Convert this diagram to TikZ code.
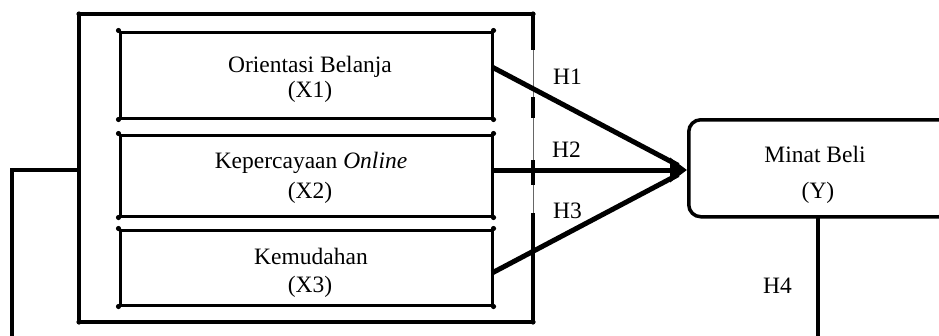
\documentclass[tikz,border=0pt]{standalone}
\usepackage{fontspec}
\setmainfont{Liberation Serif}
\usetikzlibrary{arrows.meta}
\begin{document}
\begin{tikzpicture}[x=1pt,y=-1pt,
  txt/.style={font=\fontsize{23.5}{28}\selectfont, inner sep=0pt, anchor=base},
  lbl/.style={font=\fontsize{23.5}{28}\selectfont, inner sep=0pt, anchor=base west},
  ibox/.style={draw, line width=3pt, minimum width=372pt, inner sep=0pt},
  thk/.style={line width=3.5pt},
  arr/.style={line width=5pt},
  cdot/.style={radius=2.6pt}]
\useasboundingbox (0,0) rectangle (939,335);
\clip (0,0) rectangle (939,335);

% outer frame
\coordinate (otl) at (79,14);
\coordinate (obl) at (79,322);
\coordinate (otr) at (533,14);
\coordinate (obr) at (533,322);
\draw[thk] (otr) -- (otl) -- (obl) -- (obr);
\draw[line width=1pt, black!60] (otr) -- (obr);
\draw[thk] (533,14) -- (533,50);
\draw[thk] (533,97) -- (533,118);
\draw[thk] (533,160) -- (533,185);
\draw[thk] (533,213) -- (533,322);
\foreach \p in {otl,obl,otr,obr} \fill (\p) circle[cdot];

% inner boxes
\node[ibox, minimum height=86pt] (b1) at (306,75) {};
\node[ibox, minimum height=81pt] (b2) at (306,175.5) {};
\node[ibox, minimum height=75pt] (b3) at (306,267.5) {};
\foreach \b in {b1,b2,b3} {
  \fill (\b.north west) circle[cdot];
  \fill (\b.south west) circle[cdot];
  \fill (\b.north east) circle[cdot];
  \fill (\b.south east) circle[cdot];
}

\node[txt] (t1a) at (310,72) {Orientasi Belanja};
\node[txt] (t1b) at (310,97) {(X1)};
\node[txt] (t2a) at (311,168) {Kepercayaan \textit{Online}};
\node[txt] (t2b) at (310,198) {(X2)};
\node[txt] (t3a) at (311,264) {Kemudahan};
\node[txt] (t3b) at (310,292) {(X3)};

% dependent variable
\node[draw, thk, rounded corners=12pt, minimum width=262pt, minimum height=97pt,
      inner sep=0pt, anchor=north west] (yb) at (687,118) {};
\node[txt] (ya) at (815,162) {Minat Beli};
\node[txt] (yy) at (818,198) {(Y)};

% arrows
\coordinate (tip) at (687,170);
\coordinate (s1) at (492,67);
\coordinate (s2) at (492,170);
\coordinate (s3) at (492,273);
\draw[arr, shorten >=10pt] (s1) -- (tip);
\draw[arr, shorten >=10pt] (s3) -- (tip);
\draw[arr, -{Triangle[length=17pt,width=24pt]}] (s2) -- (tip);

\node[lbl] (h1) at (553,84) {H1};
\node[lbl] (h2) at (552,157) {H2};
\node[lbl] (h3) at (553,218) {H3};
\node[lbl] (h4) at (763,293) {H4};

% H4 connector
\coordinate (yd) at (818,215);
\coordinate (ye) at (818,340);
\draw[thk] (yd) -- (ye);
\coordinate (la) at (79,170);
\coordinate (lb) at (12,170);
\coordinate (lc) at (12,340);
\draw[thk] (la) -- (lb) -- (lc);
\end{tikzpicture}
\end{document}
